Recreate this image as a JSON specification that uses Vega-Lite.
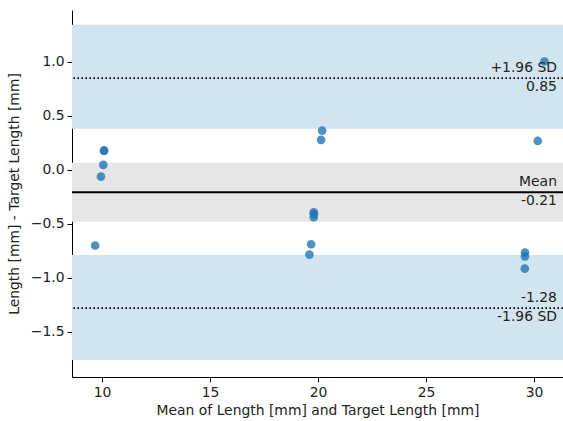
{
  "$schema": "https://vega.github.io/schema/vega-lite/v6.json",
  "autosize": {"type": "none"},
  "width": 491,
  "height": 367,
  "padding": {"left": 72, "top": 10, "right": 0, "bottom": 44},
  "config": {
    "view": {"stroke": null},
    "font": "DejaVu Sans",
    "axis": {
      "grid": false,
      "domainColor": "black",
      "domainWidth": 1,
      "tickColor": "black",
      "tickSize": 5,
      "labelPadding": 3,
      "labelFont": "DejaVu Sans",
      "labelFontSize": 13.9,
      "labelColor": "#222",
      "titleFont": "DejaVu Sans",
      "titleFontSize": 13.9,
      "titleFontWeight": "normal",
      "titleColor": "#222"
    }
  },
  "datasets": {
    "points": [
      {"mean": 10.09, "diff": 0.176},
      {"mean": 10.1, "diff": 0.18},
      {"mean": 10.06, "diff": 0.046},
      {"mean": 9.95, "diff": -0.062},
      {"mean": 20.19, "diff": 0.364},
      {"mean": 20.14, "diff": 0.278},
      {"mean": 30.17, "diff": 0.268},
      {"mean": 30.48, "diff": 1.003},
      {"mean": 9.68, "diff": -0.7},
      {"mean": 19.8, "diff": -0.392},
      {"mean": 19.81, "diff": -0.41},
      {"mean": 19.8, "diff": -0.438},
      {"mean": 19.68, "diff": -0.688},
      {"mean": 19.6, "diff": -0.784},
      {"mean": 29.58, "diff": -0.765},
      {"mean": 29.58, "diff": -0.8},
      {"mean": 29.57, "diff": -0.914}
    ],
    "bands": [
      {"lo": 0.38, "hi": 1.343, "kind": "sd"},
      {"lo": -0.48, "hi": 0.065, "kind": "mean"},
      {"lo": -1.76, "hi": -0.787, "kind": "sd"}
    ],
    "lines": [
      {"value": 0.85, "kind": "sd", "above": "+1.96 SD", "below": "0.85"},
      {"value": -0.206, "kind": "mean", "above": "Mean", "below": "-0.21"},
      {"value": -1.28, "kind": "sd", "above": "-1.28", "below": "-1.96 SD"}
    ]
  },
  "layer": [
    {
      "data": {"name": "bands"},
      "mark": {"type": "rect"},
      "encoding": {
        "y": {"field": "lo", "type": "quantitative", "scale": {"domain": [-1.917, 1.48], "nice": false, "zero": false},
          "axis": {"values": [-1.5, -1.0, -0.5, 0.0, 0.5, 1.0], "format": ".1f", "title": "Length [mm] - Target Length [mm]", "titlePadding": 9}},
        "y2": {"field": "hi"},
        "color": {"field": "kind", "type": "nominal", "scale": {"domain": ["sd", "mean"], "range": ["#d2e4f0", "#e6e6e6"]}, "legend": null}
      }
    },
    {
      "data": {"name": "lines"},
      "transform": [{"filter": "datum.kind == 'sd'"}],
      "mark": {"type": "rule", "color": "black", "strokeWidth": 1.8, "strokeDash": [1.6, 2.4]},
      "encoding": {"y": {"field": "value", "type": "quantitative"}}
    },
    {
      "data": {"name": "lines"},
      "transform": [{"filter": "datum.kind == 'mean'"}],
      "mark": {"type": "rule", "color": "black", "strokeWidth": 2},
      "encoding": {"y": {"field": "value", "type": "quantitative"}}
    },
    {
      "data": {"name": "points"},
      "mark": {"type": "circle", "size": 75, "opacity": 0.8, "color": "#1f77b4"},
      "encoding": {
        "x": {"field": "mean", "type": "quantitative", "scale": {"domain": [8.61, 31.34], "nice": false, "zero": false},
          "axis": {"values": [10, 15, 20, 25, 30], "title": "Mean of Length [mm] and Target Length [mm]", "titlePadding": 5}},
        "y": {"field": "diff", "type": "quantitative"}
      }
    },
    {
      "data": {"name": "lines"},
      "mark": {"type": "text", "align": "right", "baseline": "bottom", "dy": -3, "fontSize": 13.9, "color": "#222"},
      "encoding": {
        "x": {"datum": 31.06},
        "y": {"field": "value", "type": "quantitative"},
        "text": {"field": "above"}
      }
    },
    {
      "data": {"name": "lines"},
      "mark": {"type": "text", "align": "right", "baseline": "top", "dy": 2, "fontSize": 13.9, "color": "#222"},
      "encoding": {
        "x": {"datum": 31.06},
        "y": {"field": "value", "type": "quantitative"},
        "text": {"field": "below"}
      }
    }
  ]
}
